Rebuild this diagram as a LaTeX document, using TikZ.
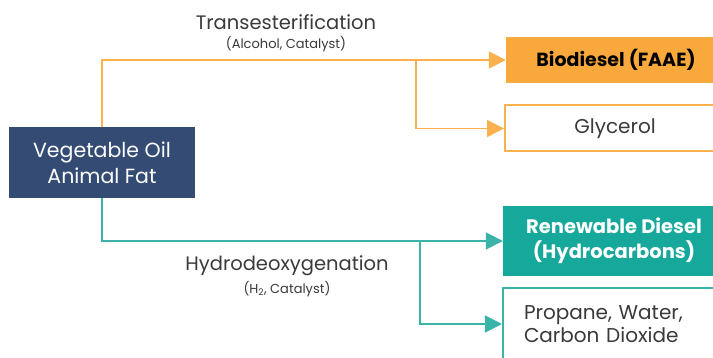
\documentclass[tikz,border=0pt]{standalone}
\usepackage{fontspec}
\setmainfont{Poppins}
\usetikzlibrary{arrows.meta}
\definecolor{navy}{HTML}{344C74}
\definecolor{orfill}{HTML}{F9A93B}
\definecolor{orline}{HTML}{FBB24E}
\definecolor{tealfill}{HTML}{16A89A}
\definecolor{tealline}{HTML}{3AB3A8}
\definecolor{txt}{HTML}{3A3A3A}
\tikzset{
  box/.style={rectangle, inner sep=0pt, anchor=center},
  orarrow/.style={draw=orline, line width=1.5pt, -{Triangle[length=17pt,width=17pt]}},
  tearrow/.style={draw=tealline, line width=1.8pt, -{Triangle[length=17pt,width=17pt]}},
  title/.style={text=txt, font=\fontsize{19.5}{22}\selectfont},
  sub/.style={text=txt, font=\fontsize{13}{15}\selectfont},
}
\begin{document}
\begin{tikzpicture}[x=1pt,y=1pt]
\useasboundingbox (0,0) rectangle (713,358);
\clip (0,0) rectangle (713,358);
\fill[white] (0,0) rectangle (713,358);
% source
\node[box, fill=navy, minimum width=186pt, minimum height=71pt, text=white, align=center,
  font=\fontsize{20.5}{26}\selectfont] (src) at (102,195.5) {Vegetable Oil\\Animal Fat};
% products
\node[box, fill=orfill, minimum width=220pt, minimum height=46pt, text=black,
  font=\bfseries\fontsize{19}{22}\selectfont] (bio) at (616,298) {Biodiesel (FAAE)};
\node[box, draw=orline, line width=2pt, fill=white, minimum width=220pt, minimum height=46pt, text=txt,
  font=\fontsize{20}{22}\selectfont] (gly) at (615,229.5) {Glycerol};
\node[box, fill=tealfill, minimum width=222pt, minimum height=70pt, text=white, align=center,
  font=\bfseries\fontsize{19.5}{25}\selectfont] (rd) at (614,117) {Renewable Diesel\\(Hydrocarbons)};
\node[box, draw=tealline, line width=2pt, fill=white, minimum width=222pt, minimum height=72pt,
  text width=180pt, align=left, inner xsep=21pt, text=txt,
  font=\fontsize{20}{23}\selectfont] (prop) at (614,34) {Propane, Water,\\Carbon Dioxide};
% labels
\node[title] (t1) at (286,336) {Transesterification};
\node[sub] (s1) at (286,314) {(Alcohol, Catalyst)};
\node[title] (t2) at (287,92) {Hydrodeoxygenation};
\node[sub] (s2) at (287,69) {(H\textsubscript{2}, Catalyst)};
% connectors
\coordinate (j1) at (416,298);
\coordinate (j2) at (420,117);
\draw[orarrow] (src.north) |- (bio.west);
\draw[orarrow] (j1) |- (gly.west);
\draw[tearrow] (src.south) |- (rd.west);
\draw[tearrow] (j2) |- (prop.west);
\end{tikzpicture}
\end{document}
